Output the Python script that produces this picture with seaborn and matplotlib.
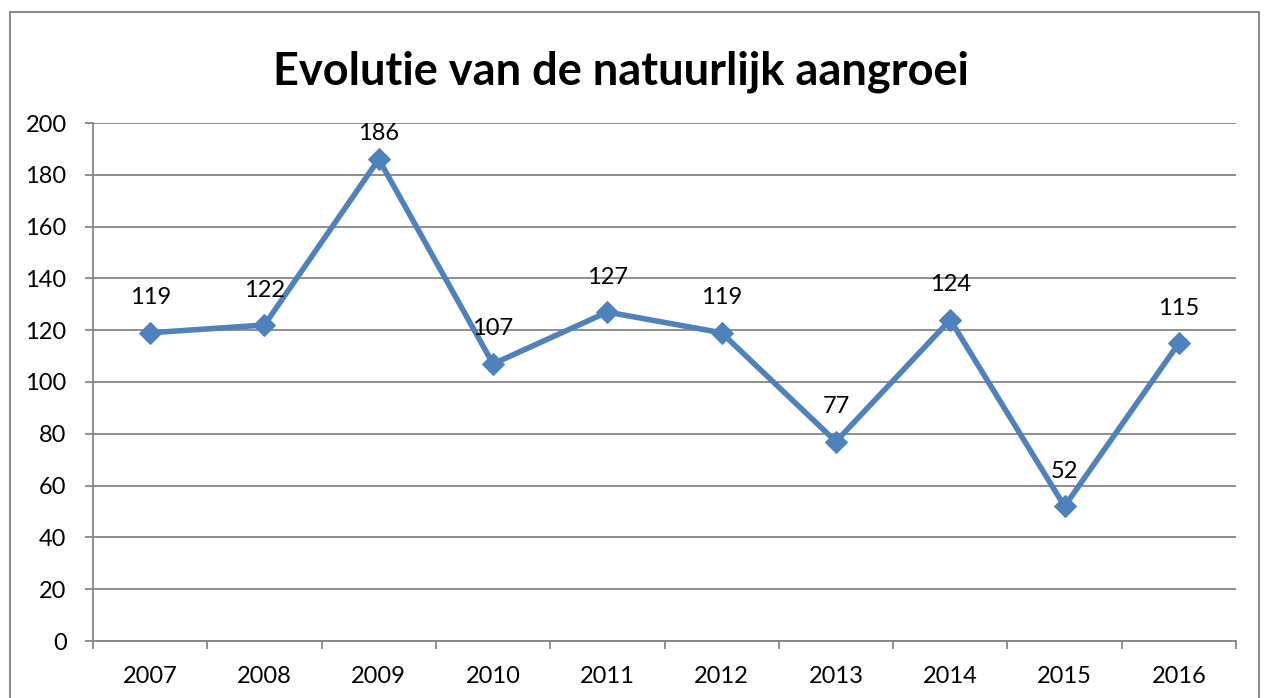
import matplotlib
matplotlib.use("Agg")
import matplotlib.pyplot as plt
import seaborn as sns
import pandas as pd
from matplotlib.patches import Rectangle
from matplotlib.ticker import FixedLocator

years = ["2007", "2008", "2009", "2010", "2011", "2012", "2013", "2014", "2015", "2016"]
values = [119, 122, 186, 107, 127, 119, 77, 124, 52, 115]
yticks = [0, 20, 40, 60, 80, 100, 120, 140, 160, 180, 200]
title = "Evolutie van de natuurlijk aangroei"

df = pd.DataFrame({"jaar": years, "aangroei": values})

sns.set_theme(style="white")
plt.rcParams["font.family"] = ["Lato", "DejaVu Sans"]

W, H = 1266, 698
fig = plt.figure(figsize=(W / 100, H / 100), dpi=100)
ax = fig.add_axes([93 / W, (H - 641) / H, (1236 - 93) / W, (641 - 123) / H])

line_color = "#4F81BD"
grid_color = "#868686"

sns.lineplot(data=df, x="jaar", y="aangroei", ax=ax, color=line_color,
             linewidth=4.0, marker="D", markersize=11, markeredgecolor=line_color,
             sort=False)

ax.set_xlim(-0.5, len(years) - 0.5)
ax.set_ylim(0, 200)
ax.set_yticks(yticks)
ax.set_yticklabels([str(t) for t in yticks])
ax.set_xticks(range(len(years)))
ax.set_xticklabels(years)
ax.xaxis.set_minor_locator(FixedLocator([i - 0.5 for i in range(len(years) + 1)]))
ax.tick_params(axis="x", which="major", length=0, pad=18, labelsize=17, labelcolor="black")
ax.tick_params(axis="x", which="minor", length=6, width=1.3, color=grid_color, direction="out", bottom=True)
ax.tick_params(axis="y", which="major", length=6, width=1.3, color=grid_color, direction="out",
               pad=13, labelsize=17, labelcolor="black", left=True)
ax.set_xlabel("")
ax.set_ylabel("")
ax.yaxis.grid(True, color=grid_color, linewidth=1.3)
ax.set_axisbelow(True)
for s in ["top", "right"]:
    ax.spines[s].set_visible(False)
for s in ["left", "bottom"]:
    ax.spines[s].set_color(grid_color)
    ax.spines[s].set_linewidth(1.3)

# data labels above markers, kept inside the plot area
px_per_unit = (641 - 123) / 200.0
offset_px = 35
top_limit_px = 11
for i, v in enumerate(values):
    room_px = (200 - v) * px_per_unit - top_limit_px
    off = min(offset_px, room_px) * 0.72
    ax.annotate(str(v), (i, v), xytext=(0, off), textcoords="offset points",
                ha="center", va="center", fontsize=17, color="black")

fig.text(621 / W, 1 - 72 / H, title, ha="center", va="center",
         fontsize=32.5, fontweight="bold", color="black")

fig.patches.append(Rectangle((10 / W, -0.05), (1259 - 10) / W, 1.05 - 12 / H,
                             transform=fig.transFigure, fill=False,
                             edgecolor="#8C8C8C", linewidth=1.5, clip_on=False))

fig.savefig("out.png", dpi=100)
